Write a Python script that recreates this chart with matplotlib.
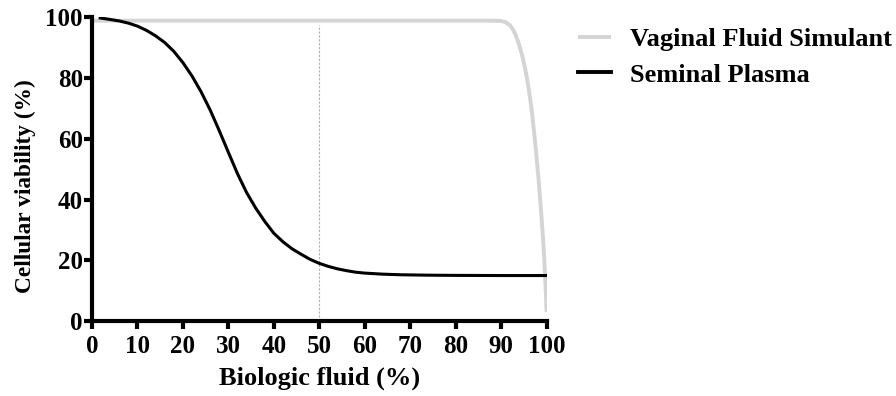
import matplotlib
matplotlib.use("Agg")
import matplotlib.pyplot as plt

plt.rcParams['font.family'] = ['Liberation Serif', 'DejaVu Serif']
plt.rcParams['font.weight'] = 'bold'

# Seminal plasma curve
sp_x = [1.8, 4, 6, 8, 10, 12, 14, 16, 18, 20, 22, 24, 26, 28, 30, 32, 34, 36, 38, 40,
        42, 44, 46, 48, 50, 52, 54, 56, 58, 60, 64, 68, 74, 80, 90, 100]
sp_y = [99.7, 99.2, 98.7, 98.0, 97.0, 95.6, 93.8, 91.6, 88.7, 85.0, 80.6, 75.4, 69.4,
        62.6, 55.5, 48.5, 42.3, 37.2, 32.8, 28.9, 26.1, 23.8, 22.0, 20.3, 19.0, 18.0,
        17.2, 16.6, 16.1, 15.8, 15.45, 15.25, 15.12, 15.05, 15.0, 15.0]

# Vaginal fluid simulant curve
vf_x = [0.3, 50, 88, 90, 91, 92, 92.6, 93.2, 93.9, 94.6, 95.3, 95.9, 96.4, 96.8, 97.3,
        97.8, 98.3, 98.8, 99.3, 99.7, 100]
vf_y = [98.8, 98.8, 98.8, 98.7, 98.3, 97.2, 95.9, 94.1, 91.2, 87.6, 83.0, 78.0, 73.0,
        68.5, 61.5, 54.0, 45.5, 36.0, 25.5, 14.5, 3.0]

x_ticks = [0, 10, 20, 30, 40, 50, 60, 70, 80, 90, 100]
y_ticks = [0, 20, 40, 60, 80, 100]
ref_x = 50
ref_top = 97.5

fig = plt.figure(figsize=(8.96, 3.96), dpi=100)
ax = fig.add_axes([0.1027, 0.189, 0.5073, 0.768])

ax.plot([ref_x, ref_x], [0, ref_top], color='#b0b0b0', lw=0.8, ls=(0, (2, 1.5)), zorder=1)
ax.plot(vf_x, vf_y, color='#d4d4d4', lw=2.8, label='Vaginal Fluid Simulant', zorder=2,
        solid_capstyle='butt', solid_joinstyle='round')
ax.plot(sp_x, sp_y, color='black', lw=2.2, label='Seminal Plasma', zorder=3,
        solid_joinstyle='round')

ax.set_xlim(0, 100)
ax.set_ylim(0, 100)
ax.set_xticks(x_ticks)
ax.set_yticks(y_ticks)
for s in ['top', 'right']:
    ax.spines[s].set_visible(False)
for s in ['left', 'bottom']:
    ax.spines[s].set_linewidth(3)
ax.tick_params(width=3, length=6, labelsize=18, direction='out')
ax.tick_params(axis='y', pad=0.5)
ax.tick_params(axis='x', pad=4)
for lab in ax.get_xticklabels() + ax.get_yticklabels():
    lab.set_fontweight('bold')
ax.set_xlabel('Biologic fluid (%)', fontsize=19, fontweight='bold', labelpad=6)
ax.set_ylabel('Cellular viability (%)', fontsize=16.8, fontweight='bold')
ax.yaxis.set_label_coords(-0.123, 0.444)

leg = ax.legend(loc='upper left', bbox_to_anchor=(0.645, 0.930), bbox_transform=fig.transFigure,
                frameon=False, fontsize=19, handlelength=1.25, handletextpad=0.72,
                labelspacing=0.45, borderaxespad=0, borderpad=0)
for t in leg.get_texts():
    t.set_fontweight('bold')
for h in leg.get_lines():
    h.set_linewidth(2.8)

fig.savefig('out.png', dpi=100)
